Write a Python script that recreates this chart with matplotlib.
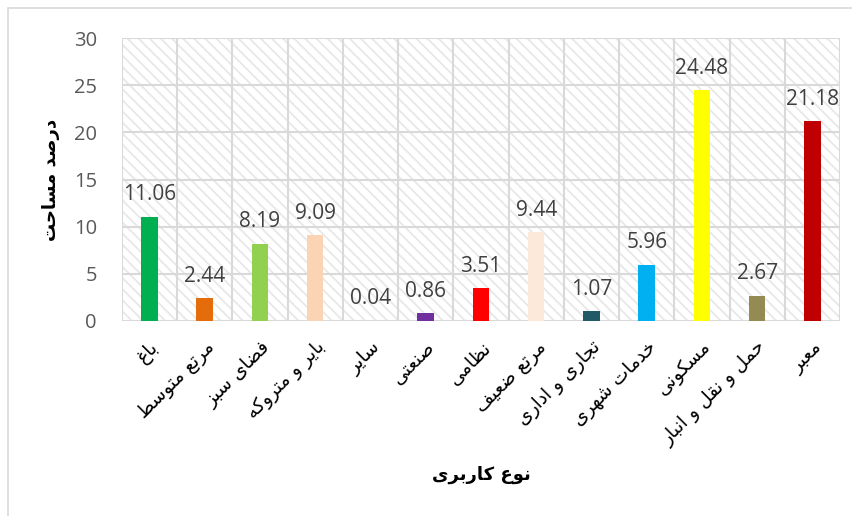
import matplotlib
matplotlib.use("Agg")
import matplotlib.pyplot as plt
from matplotlib.patches import Rectangle
import numpy as np

# داده ها
categories = ["باغ", "مرتع متوسط", "فضای سبز", "بایر و متروکه", "سایر", "صنعتی",
              "نظامی", "مرتع ضعیف", "تجاری و اداری", "خدمات شهری", "مسکونی",
              "حمل و نقل و انبار", "معبر"]
values = [11.06, 2.44, 8.19, 9.09, 0.04, 0.86, 3.51, 9.44, 1.07, 5.96, 24.48, 2.67, 21.18]
colors = ["#00B050", "#E46C0A", "#92D050", "#FBD4B4", "#A6A6A6", "#7030A0", "#FF0000",
          "#FDE9D9", "#215967", "#00B0F0", "#FFFF00", "#948A54", "#C00000"]
y_ticks = [0, 5, 10, 15, 20, 25, 30]
x_title = "نوع کاربری"
y_title = "درصد مساحت"

# شکل دادن حروف فارسی (matplotlib خودش انجام نمی دهد)
# (isolated, final, initial, medial)
FORMS = {
    "ا": ("\uFE8D", "\uFE8E", None, None),
    "ب": ("\uFE8F", "\uFE90", "\uFE91", "\uFE92"),
    "ت": ("\uFE95", "\uFE96", "\uFE97", "\uFE98"),
    "ج": ("\uFE9D", "\uFE9E", "\uFE9F", "\uFEA0"),
    "ح": ("\uFEA1", "\uFEA2", "\uFEA3", "\uFEA4"),
    "خ": ("\uFEA5", "\uFEA6", "\uFEA7", "\uFEA8"),
    "د": ("\uFEA9", "\uFEAA", None, None),
    "ر": ("\uFEAD", "\uFEAE", None, None),
    "ز": ("\uFEAF", "\uFEB0", None, None),
    "س": ("\uFEB1", "\uFEB2", "\uFEB3", "\uFEB4"),
    "ش": ("\uFEB5", "\uFEB6", "\uFEB7", "\uFEB8"),
    "ص": ("\uFEB9", "\uFEBA", "\uFEBB", "\uFEBC"),
    "ض": ("\uFEBD", "\uFEBE", "\uFEBF", "\uFEC0"),
    "ط": ("\uFEC1", "\uFEC2", "\uFEC3", "\uFEC4"),
    "ظ": ("\uFEC5", "\uFEC6", "\uFEC7", "\uFEC8"),
    "ع": ("\uFEC9", "\uFECA", "\uFECB", "\uFECC"),
    "غ": ("\uFECD", "\uFECE", "\uFECF", "\uFED0"),
    "ف": ("\uFED1", "\uFED2", "\uFED3", "\uFED4"),
    "ق": ("\uFED5", "\uFED6", "\uFED7", "\uFED8"),
    "ل": ("\uFEDD", "\uFEDE", "\uFEDF", "\uFEE0"),
    "م": ("\uFEE1", "\uFEE2", "\uFEE3", "\uFEE4"),
    "ن": ("\uFEE5", "\uFEE6", "\uFEE7", "\uFEE8"),
    "ه": ("\uFEE9", "\uFEEA", "\uFEEB", "\uFEEC"),
    "و": ("\uFEED", "\uFEEE", None, None),
    "ی": ("\uFBFC", "\uFBFD", "\uFBFE", "\uFBFF"),
    "ک": ("\uFB8E", "\uFB8F", "\uFB90", "\uFB91"),
}


def farsi(text):
    out = []
    n = len(text)
    for i, ch in enumerate(text):
        if ch not in FORMS:
            out.append(ch)
            continue
        prev = text[i - 1] if i > 0 else None
        nxt = text[i + 1] if i < n - 1 else None
        join_prev = prev in FORMS and FORMS[prev][2] is not None
        join_next = nxt in FORMS and FORMS[ch][2] is not None
        iso, fin, ini, med = FORMS[ch]
        if join_prev and join_next:
            out.append(med)
        elif join_prev:
            out.append(fin)
        elif join_next:
            out.append(ini)
        else:
            out.append(iso)
    return "".join(out)[::-1]


fig = plt.figure(figsize=(8.52, 5.16), dpi=100)
ax = fig.add_axes([0.143, 0.378, 0.843, 0.548])

x = np.arange(len(categories))
ax.set_xlim(-0.5, len(categories) - 0.5)
ax.set_ylim(0, 30)

# زمینه هاشور خورده
plt.rcParams['hatch.linewidth'] = 1.3
ax.add_patch(Rectangle((0, 0), 1, 1, transform=ax.transAxes, facecolor="white",
                       edgecolor="#e8e8e8", hatch="\\\\\\", linewidth=0, zorder=0))

# خطوط شبکه
for yv in y_ticks[1:]:
    ax.axhline(yv, color="#d9d9d9", linewidth=1.5, zorder=1)
for xv in np.arange(-0.5, len(categories), 1.0):
    ax.axvline(xv, color="#d9d9d9", linewidth=1.5, zorder=1)
ax.axhline(0, color="#d9d9d9", linewidth=1.5, zorder=1)

ax.bar(x, values, width=0.3, color=colors, zorder=3)

for xi, v in zip(x, values):
    ax.text(xi, v + 1.2, f"{v:.2f}", ha="center", va="bottom",
            fontsize=15, color="#404040", family="Open Sans", zorder=4)

for s in ax.spines.values():
    s.set_visible(False)

ax.set_yticks(y_ticks)
ax.set_yticklabels([str(t) for t in y_ticks], family="Open Sans")
ax.tick_params(axis="y", length=0, labelsize=14.5, labelcolor="#595959", pad=18)
ax.set_xticks(x)
ax.set_xticklabels([farsi(c) for c in categories], rotation=45, ha="right",
                   rotation_mode="anchor", fontsize=13.5, color="black")
ax.tick_params(axis="x", length=0, pad=12)

ax.set_xlabel(farsi(x_title), fontsize=13, fontweight="bold", labelpad=12)
ax.set_ylabel(farsi(y_title), fontsize=13, fontweight="bold", labelpad=10)

# قاب نمودار
fig.add_artist(Rectangle((8 / 852, -0.1), 1.2, 1 - 8 / 516 + 0.1,
                         transform=fig.transFigure, fill=False,
                         edgecolor="#d9d9d9", linewidth=1.2))

fig.savefig("out.png", dpi=100)
